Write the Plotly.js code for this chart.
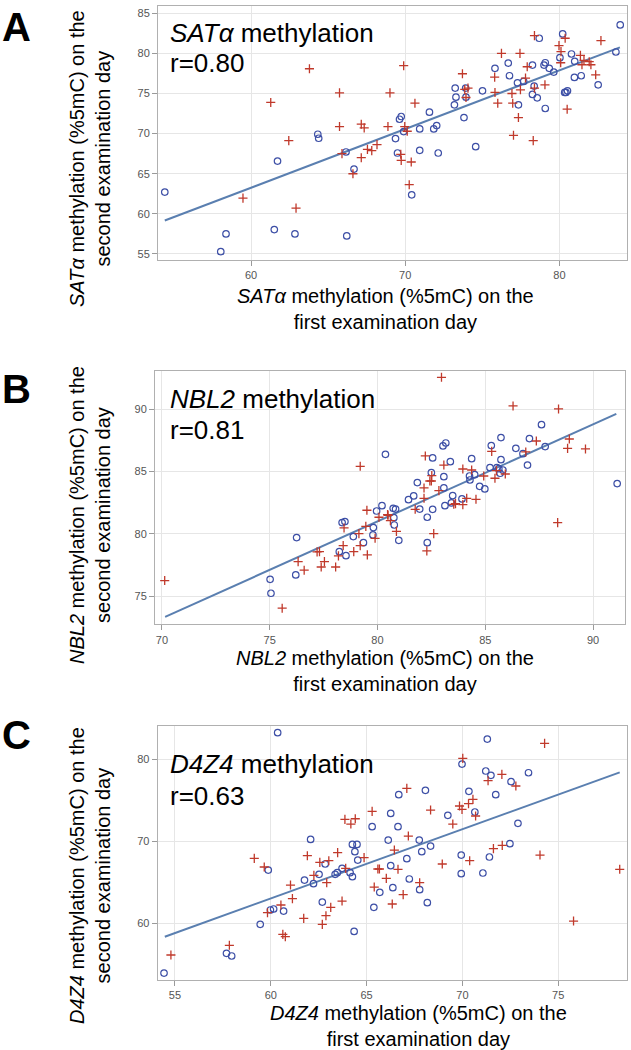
<!DOCTYPE html>
<html>
<head>
<meta charset="utf-8">
<script src="https://cdn.plot.ly/plotly-3.0.1.min.js"></script>
<style>
  html, body { margin: 0; padding: 0; background: #ffffff; }
  #chart { width: 631px; height: 1050px; }
</style>
</head>
<body>
<div id="chart"></div>
<script>
// ---------- Panel A: SATα ----------
const satCircleX = [54.41,58.04,58.38,61.51,61.72,62.85,64.33,64.39,66.16,66.21,66.68,69.37,69.50,69.63,69.74,69.90,70.42,70.94,70.94,71.57,71.85,72.04,72.14,73.19,73.24,73.29,73.81,73.92,73.94,74.57,75.01,75.82,76.68,76.76,77.28,77.34,77.68,78.25,78.25,78.36,78.56,78.69,79.00,79.08,79.08,79.34,79.63,80.03,80.21,80.34,80.42,80.52,80.78,80.99,80.97,81.41,82.51,83.66,83.94];
const satCircleY = [62.71,55.29,57.50,58.04,66.58,57.50,69.92,69.42,67.71,57.25,65.58,69.38,67.58,71.79,72.13,70.25,62.37,70.58,67.92,72.67,70.58,71.00,67.58,73.58,75.67,74.54,72.00,75.67,74.54,68.37,75.33,78.13,78.79,77.21,76.33,73.58,76.50,78.54,74.88,75.92,74.46,81.88,78.54,78.83,73.13,78.13,77.67,79.46,82.42,75.13,75.13,75.33,79.92,79.00,77.00,77.21,76.08,80.17,83.54];
const satPlusX = [59.48,61.28,62.45,62.92,63.79,65.74,65.74,65.90,66.61,67.15,67.15,67.34,67.55,67.83,68.17,68.88,69.01,69.71,69.74,69.90,69.97,70.13,70.26,70.39,70.63,73.71,73.86,73.94,74.07,75.80,75.82,76.00,76.24,76.92,76.97,77.02,77.34,77.44,77.47,77.80,77.91,78.30,78.38,78.38,79.06,79.97,80.10,80.08,80.37,80.50,81.36,81.46,81.59,81.93,82.04,82.35,82.69];
const satPlusY = [61.96,73.88,69.13,60.71,78.08,75.08,70.88,67.50,65.00,71.17,67.00,70.71,68.04,67.88,68.63,70.88,75.08,67.42,66.67,78.46,70.88,70.29,63.63,66.46,73.79,77.46,75.50,74.50,75.67,77.04,75.13,73.79,80.00,75.00,73.79,69.79,72.00,80.00,75.46,76.92,78.33,69.13,82.21,75.67,76.08,80.96,80.21,78.83,81.88,73.04,79.75,78.58,79.13,78.96,78.58,77.33,81.58];
const satFitX = [54.41, 83.92];
const satFitY = [59.17, 80.75];

// ---------- Panel B: NBL2 ----------
const nblCircleX = [75.02,75.06,76.25,76.21,78.23,78.36,78.49,78.54,78.88,79.35,79.81,79.79,79.96,80.21,80.37,80.73,80.84,80.76,80.78,80.99,81.44,81.68,81.85,81.96,82.31,82.31,82.50,82.56,82.56,83.04,83.17,83.08,83.08,83.13,83.38,83.49,83.43,83.92,84.27,84.29,84.37,84.51,84.74,84.98,85.22,85.28,85.54,85.63,85.73,85.73,85.69,85.82,86.42,86.75,86.96,87.05,87.61,87.78,91.12];
const nblCircleY = [76.36,75.24,79.71,76.71,78.58,80.91,80.99,78.26,79.79,79.30,80.51,79.92,81.84,82.27,86.39,82.06,82.00,81.31,80.72,79.49,82.75,83.05,84.12,82.00,81.34,79.30,84.92,86.10,81.98,87.06,87.30,84.60,83.69,82.27,85.80,83.07,82.49,82.81,84.65,84.33,86.04,84.76,83.82,83.61,85.32,87.09,85.32,85.24,87.73,85.96,84.87,85.13,86.87,86.44,85.53,87.65,88.77,87.01,84.04];
const nblPlusX = [70.13,75.58,76.32,76.60,77.20,77.31,77.39,77.54,78.06,78.19,78.41,78.45,78.90,79.20,79.14,79.20,79.51,79.46,79.53,79.89,80.07,80.49,80.47,80.60,80.88,81.75,82.16,82.16,82.22,82.43,82.50,82.52,82.61,82.29,82.85,82.97,83.08,83.54,83.62,83.96,83.96,84.14,84.37,84.57,84.93,85.30,85.45,85.52,85.93,86.29,86.88,87.37,88.36,88.40,88.82,88.90,89.65];
const nblPlusY = [76.26,74.04,77.78,77.09,78.56,78.58,77.35,77.78,77.35,78.24,79.06,80.48,78.58,85.43,80.03,79.06,81.90,80.61,78.32,79.65,81.34,81.50,81.55,81.07,80.21,81.98,83.69,82.86,86.26,84.25,84.25,84.68,80.03,78.64,83.48,92.57,85.53,82.38,82.43,82.35,85.21,82.86,85.13,82.78,84.65,86.63,84.47,85.08,84.81,90.27,86.58,87.46,80.91,90.03,86.87,87.62,86.82];
const nblFitX = [70.15, 91.08];
const nblFitY = [73.34, 89.63];

// ---------- Panel C: D4Z4 ----------
const d4CircleX = [54.43,57.69,57.96,59.45,59.87,59.98,60.15,60.36,60.67,61.76,62.08,62.23,62.52,62.69,62.84,63.36,63.47,63.72,64.14,64.26,64.26,64.50,64.39,64.54,64.35,65.29,65.38,65.69,66.13,66.26,66.26,66.37,66.64,66.68,67.10,67.23,67.75,67.77,67.88,68.07,68.17,68.34,69.24,69.94,69.94,69.98,70.34,70.65,71.07,71.22,71.30,71.41,71.49,71.74,72.48,72.54,72.90,73.45];
const d4CircleY = [53.94,56.34,56.02,59.88,66.50,61.63,61.75,83.25,61.50,65.28,70.24,64.84,65.98,62.60,67.24,65.98,66.18,66.71,66.18,65.69,69.63,69.63,68.74,67.72,59.02,71.79,61.95,63.78,70.16,73.41,67.03,64.35,71.79,75.69,67.89,65.41,70.16,64.11,68.74,76.22,62.52,69.43,73.17,68.33,66.06,79.43,76.10,73.58,66.14,78.58,82.48,68.09,78.05,75.69,69.72,77.28,72.20,78.37];
const d4PlusX = [54.79,57.84,59.14,59.66,59.83,60.53,60.63,60.76,61.03,61.13,61.72,61.91,62.25,62.56,62.69,62.88,62.92,63.03,63.13,63.49,63.72,63.87,63.91,64.18,64.41,64.87,65.29,65.40,65.59,65.67,66.03,66.34,66.45,66.64,66.91,67.10,67.18,67.77,68.34,68.95,69.50,69.85,69.98,70.02,70.32,70.38,70.55,70.69,71.34,71.62,72.06,72.08,72.79,74.05,74.29,75.80,78.21];
const d4PlusY = [56.14,57.32,67.93,66.87,61.30,62.24,58.66,58.37,64.67,63.01,60.61,68.25,65.85,67.44,59.88,60.93,64.96,67.64,61.95,68.62,62.72,72.68,66.71,72.11,72.76,68.01,73.66,64.43,66.63,66.63,65.49,62.36,68.94,66.59,63.50,76.46,70.65,64.96,73.82,67.24,72.11,74.31,73.90,80.12,74.59,67.64,75.12,73.09,77.40,69.11,78.17,69.51,76.75,68.33,81.95,60.28,66.59];
const d4FitX = [54.47, 78.21];
const d4FitY = [58.37, 78.41];

// ---------- Text ----------
const panelLetters = ['A', 'B', 'C'];
const genes = ['SATα', 'NBL2', 'D4Z4'];
const rValues = ['r=0.80', 'r=0.81', 'r=0.63'];
const xTitleLine2 = 'first examination day';
const yTitleLine2 = 'second examination day';

// ---------- Layout helpers ----------
const W = 631, H = 1050;
const px = x => x / W;
const py = y => 1 - y / H;
const FONT = 'Liberation Sans, Arial, Helvetica, sans-serif';
const BLUE = '#3d4fa6';
const RED = '#c0392b';
const LINE = '#5a7fb0';

function circles(x, y, ax) {
  return { type: 'scatter', mode: 'markers', x: x, y: y, xaxis: 'x' + ax, yaxis: 'y' + ax,
    marker: { symbol: 'circle-open', size: 6.5, color: BLUE, line: { color: BLUE, width: 1.2 } },
    hoverinfo: 'x+y', showlegend: false };
}
function pluses(x, y, ax) {
  return { type: 'scatter', mode: 'markers', x: x, y: y, xaxis: 'x' + ax, yaxis: 'y' + ax,
    marker: { symbol: 'cross-thin-open', size: 6.5, color: RED, line: { color: RED, width: 1.3 } },
    hoverinfo: 'x+y', showlegend: false };
}
function fit(x, y, ax) {
  return { type: 'scatter', mode: 'lines', x: x, y: y, xaxis: 'x' + ax, yaxis: 'y' + ax,
    line: { color: LINE, width: 2 }, hoverinfo: 'skip', showlegend: false };
}

const data = [
  fit(satFitX, satFitY, ''), circles(satCircleX, satCircleY, ''), pluses(satPlusX, satPlusY, ''),
  fit(nblFitX, nblFitY, '2'), circles(nblCircleX, nblCircleY, '2'), pluses(nblPlusX, nblPlusY, '2'),
  fit(d4FitX, d4FitY, '3'), circles(d4CircleX, d4CircleY, '3'), pluses(d4PlusX, d4PlusY, '3')
];
data.slice(0, 3).forEach(t => { t.xaxis = 'x'; t.yaxis = 'y'; });

function axis(domain, range, dtick, anchor) {
  return { domain: domain, range: range, dtick: dtick, tick0: 0, anchor: anchor,
    showgrid: true, gridcolor: '#e6e6e6', gridwidth: 1, zeroline: false,
    showline: true, linecolor: '#b0b0b0', linewidth: 1, mirror: true,
    ticks: 'outside', ticklen: 5, tickcolor: '#9a9a9a', tickwidth: 1,
    tickfont: { family: FONT, size: 11, color: '#555555' }, fixedrange: true };
}

const layout = {
  width: W, height: H,
  margin: { l: 0, r: 0, t: 0, b: 0 },
  paper_bgcolor: '#ffffff', plot_bgcolor: '#ffffff',
  font: { family: FONT },
  showlegend: false,
  xaxis:  axis([px(158), px(627)],   [53.97, 84.38], 10, 'y'),
  yaxis:  axis([py(260), py(6)],     [54.25, 85.9],  5,  'x'),
  xaxis2: axis([px(155), px(624.5)], [69.68, 91.46], 5,  'y2'),
  yaxis2: axis([py(624.3), py(370.7)], [72.75, 93.1], 5, 'x2'),
  xaxis3: axis([px(157.7), px(627)], [54.1, 78.59],  5,  'y3'),
  yaxis3: axis([py(980), py(726)],   [53.09, 84.07], 10, 'x3'),
  annotations: []
};

function ann(text, x, y, size, opts) {
  return Object.assign({ text: text, xref: 'paper', yref: 'paper', x: px(x), y: py(y),
    showarrow: false, font: { family: FONT, size: size, color: '#000000' },
    xanchor: 'center', yanchor: 'middle', align: 'center' }, opts || {});
}

const panelLetterY = [27, 389.5, 734.5];
const geneLabelY = [32.5, 399.2, 764.2];
const rLabelY = [63.5, 430.2, 795.9];
const xTitleX = [385, 385, 418];
const xTitleY = [309, 671, 1026];
const yTitleY = [159, 515, 876];

for (let i = 0; i < 3; i++) {
  layout.annotations.push(ann('<b>' + panelLetters[i] + '</b>', 0, panelLetterY[i], 40, { xanchor: 'left' }));
  layout.annotations.push(ann('<i>' + genes[i] + '</i> methylation', 168, geneLabelY[i], 26, { xanchor: 'left', align: 'left' }));
  layout.annotations.push(ann(rValues[i], 168, rLabelY[i], 26, { xanchor: 'left', align: 'left' }));
  layout.annotations.push(ann('<i>' + genes[i] + '</i> methylation (%5mC) on the<br>' + xTitleLine2, xTitleX[i], xTitleY[i], 20));
  layout.annotations.push(ann('<i>' + genes[i] + '</i> methylation (%5mC) on the<br>' + yTitleLine2, 90, yTitleY[i], 20, { textangle: -90 }));
}

Plotly.newPlot('chart', data, layout, { displayModeBar: false, staticPlot: true });
</script>
</body>
</html>
